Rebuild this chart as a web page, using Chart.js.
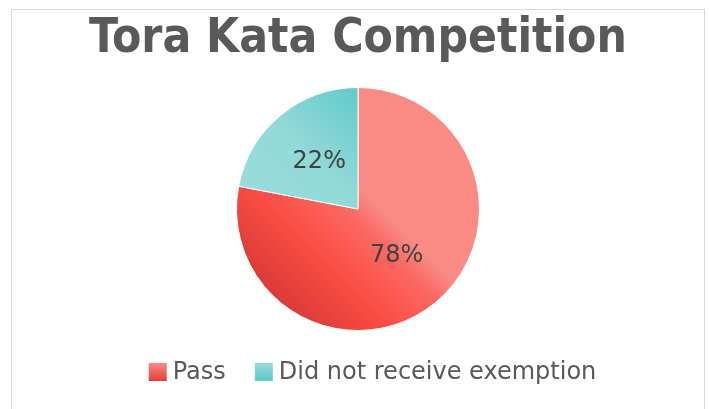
<!DOCTYPE html>
<html>
<head>
<meta charset="utf-8">
<script src="https://cdn.jsdelivr.net/npm/chart.js@4.4.1/dist/chart.umd.min.js"></script>
<style>
  body { margin: 0; background: #fff; }
  #wrap { position: relative; width: 709px; height: 409px; overflow: hidden; }
  #frame { position: absolute; left: 11px; top: 9px; width: 692px; height: 430px; border: 1px solid #d9d9d9; }
  canvas { position: absolute; left: 0; top: 0; }
</style>
</head>
<body>
<div id="wrap">
  <div id="frame"></div>
  <canvas id="chart" width="709" height="409"></canvas>
</div>
<script>
const title = 'Tora Kata Competition'
const categories = ['Pass', 'Did not receive exemption']
const values = [78, 22]

// gradient stops per slice (position along bottom-left -> top-right diagonal)
const redStops = [[0, '#d83b36'], [0.25, '#fb4c44'], [0.47, '#f96a63'], [0.56, '#f98a84'], [1, '#f98a84']]
const tealStops = [[0, '#9adcdc'], [0.5, '#94d9d9'], [0.9, '#5cc8c8'], [1, '#5cc8c8']]
const solid = ['#f4544c', '#6bcbcb']

const pieGeom = chart => {
  const a = chart.chartArea
  const cx = (a.left + a.right) / 2, cy = (a.top + a.bottom) / 2
  const r = Math.min(a.right - a.left, a.bottom - a.top) / 2
  return { cx, cy, r }
}

const sliceFill = ctx => {
  const chart = ctx.chart
  if (!chart.chartArea) return solid[ctx.dataIndex]
  const { cx, cy, r } = pieGeom(chart)
  const k = r / Math.SQRT2
  const g = chart.ctx.createLinearGradient(cx - k, cy + k, cx + k, cy - k)
  const stops = ctx.dataIndex === 0 ? redStops : tealStops
  stops.forEach(s => g.addColorStop(s[0], s[1]))
  return g
}

// percent labels in the middle of each slice
const sliceLabels = {
  id: 'sliceLabels',
  afterDatasetsDraw(chart) {
    const c = chart.ctx
    const total = values.reduce((a, b) => a + b, 0)
    c.save()
    c.font = '24px "DejaVu Sans"'
    c.fillStyle = '#404040'
    c.textAlign = 'center'
    c.textBaseline = 'middle'
    chart.getDatasetMeta(0).data.forEach((arc, i) => {
      const p = arc.getCenterPoint()
      c.fillText(Math.round(values[i] / total * 100) + '%', p.x, p.y)
    })
    c.restore()
  }
}

// bottom legend, drawn with tight box/text spacing
const bottomLegend = {
  id: 'bottomLegend',
  afterDraw(chart) {
    const c = chart.ctx
    const box = 18, gap = 6, spacing = 29, y = 372
    c.save()
    c.font = '24px "DejaVu Sans"'
    c.textBaseline = 'middle'
    const widths = categories.map(t => box + gap + c.measureText(t).width)
    const total = widths.reduce((a, b) => a + b, 0) + spacing * (categories.length - 1)
    let x = (chart.width - total) / 2 + 18
    categories.forEach((t, i) => {
      const g = c.createLinearGradient(0, y - box / 2, 0, y + box / 2)
      const stops = i === 0 ? ['#f98a84', '#e0403a'] : ['#96dada', '#5ec8c8']
      g.addColorStop(0, stops[0]); g.addColorStop(1, stops[1])
      c.fillStyle = g
      c.fillRect(x, y - box / 2, box, box)
      c.fillStyle = '#595959'
      c.fillText(t, x + box + gap, y + 1)
      x += widths[i] + spacing
    })
    c.restore()
  }
}

new Chart(document.getElementById('chart'), {
  type: 'pie',
  data: {
    labels: categories,
    datasets: [{
      data: values,
      backgroundColor: sliceFill,
      borderColor: '#ffffff',
      borderWidth: 1
    }]
  },
  options: {
    responsive: false,
    animation: false,
    layout: { padding: { top: 0, bottom: 78, left: 7, right: 0 } },
    plugins: {
      legend: { display: false },
      tooltip: { enabled: false },
      title: {
        display: true,
        text: title,
        color: '#595959',
        font: { family: '"DejaVu Sans Condensed", "DejaVu Sans"', size: 47.5, weight: 'bold', lineHeight: 1.2 },
        padding: { top: 11, bottom: 19 }
      }
    }
  },
  plugins: [sliceLabels, bottomLegend]
})
</script>
</body>
</html>
